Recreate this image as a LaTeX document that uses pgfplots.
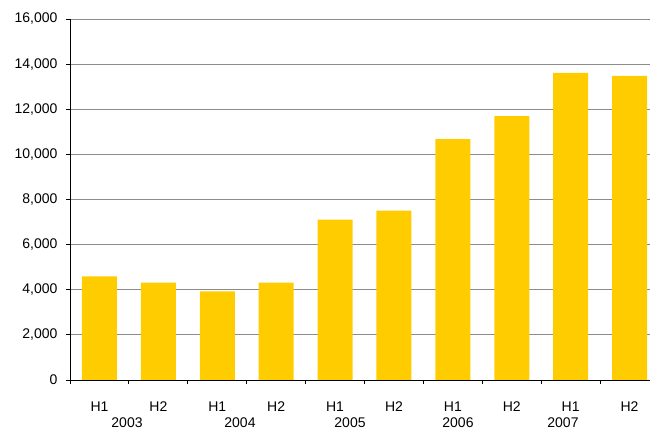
\documentclass[border=0pt]{standalone}
\usepackage{pgfplots}
\pgfplotsset{compat=1.18}
\usepackage{fontspec}
\setmainfont{Liberation Sans}

\definecolor{baryellow}{HTML}{FFCC00}
\definecolor{gridgray}{HTML}{8C8C8C}

\newcommand{\labelfont}{\fontsize{14}{17}\selectfont}

\begin{document}
\begin{tikzpicture}[x=1pt, y=1pt, font=\labelfont]
  \path[use as bounding box] (0,0) rectangle (650,430);
  \clip (0,0) rectangle (650,430);
  \begin{axis}[
    at={(70pt,50pt)}, anchor=south west,
    scale only axis,
    width=589pt, height=361pt,
    xmin=0.5, xmax=10.5,
    ymin=0, ymax=16000,
    axis x line=bottom, axis y line=left,
    axis line style={-, black, line width=0.9pt},
    ytick={0,2000,...,16000},
    scaled y ticks=false,
    ymajorgrids,
    major grid style={gridgray, line width=0.9pt},
    yticklabel={\labelfont\pgfmathprintnumber[fixed,precision=0,1000 sep={,}]{\tick}},
    /pgf/number format/assume math mode=true,
    tick style={black, line width=0.9pt},
    tick align=outside,
    major tick length=4pt,
    xtick={1,...,10},
    xticklabels={H1,H2,H1,H2,H1,H2,H1,H2,H1,H2},
    major x tick style={draw=none},
    minor xtick={0.5,1.5,...,10.5},
    minor tick length=4pt,
    minor x tick style={black, line width=0.9pt},
    extra x ticks={1.468,3.386,5.254,7.087,8.87},
    extra x tick labels={2003,2004,2005,2006,2007},
    extra x tick style={
      major tick length=0pt,
      xticklabel style={yshift=-20pt},
    },
    tick label style={font=\labelfont, text=black},
    xticklabel style={anchor=base, yshift=-28pt},
    yticklabel style={xshift=-5pt},
    clip=false,
  ]
    \addplot[ybar, bar width=35pt, fill=baryellow, draw=none] coordinates {
      (1,4590) (2,4320) (3,3925) (4,4320) (5,7110)
      (6,7510) (7,10680) (8,11700) (9,13610) (10,13480)
    };
  \end{axis}
\end{tikzpicture}
\end{document}
